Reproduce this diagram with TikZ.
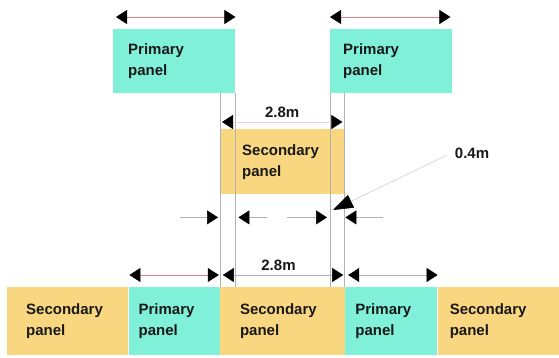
\documentclass[tikz,border=0pt]{standalone}
\usepackage{fontspec}
\setmainfont{Liberation Sans}
\usetikzlibrary{positioning, arrows.meta}
\definecolor{aqua}{RGB}{128,240,216}
\definecolor{sand}{RGB}{249,214,128}
\definecolor{dimred}{RGB}{222,130,140}

\begin{document}
\begin{tikzpicture}[x=1pt, y=-1pt,
    >={Triangle[length=11pt,width=14pt,black]},
    panel/.style={anchor=north west, align=left, inner ysep=0pt,
      font=\fontsize{15}{21}\selectfont\bfseries, text=black!90},
    prim/.style={panel, fill=aqua},
    sec/.style={panel, fill=sand},
    lbl/.style={font=\fontsize{15}{18}\selectfont\bfseries, text=black!90},
    guide/.style={draw=gray!60, line width=0.5pt},
    dimarrow/.style={draw=#1, line width=0.5pt, <->},
    tail/.style={draw=gray!60, line width=0.5pt},
    leader/.style={draw=gray!45, line width=0.5pt, -{Triangle[length=20pt,width=14pt,black]}}]
  \useasboundingbox (0,0) rectangle (559,358);
  % upper panels
  \node [prim, text width=92pt, inner xsep=15pt, minimum height=64pt] (pl) at (113,29) {Primary\\panel};
  \node [prim, text width=96pt, inner xsep=13pt, minimum height=64pt] (pr) at (330,29) {Primary\\panel};
  \node [sec, text width=80pt, inner xsep=22pt, minimum height=65pt] (sm) at (220,129) {Secondary\\panel};
  % lower row
  \node [sec, text width=83pt, inner xsep=19pt, minimum height=68pt] (b1) at (7,287) {Secondary\\panel};
  \node [prim, text width=71pt, inner xsep=10pt, minimum height=68pt, right=0pt of b1] (b2) {Primary\\panel};
  \node [sec, text width=85pt, inner xsep=20pt, minimum height=68pt, right=0pt of b2] (b3) {Secondary\\panel};
  \node [prim, text width=72pt, inner xsep=10pt, minimum height=68pt, right=0pt of b3] (b4) {Primary\\panel};
  \node [sec, text width=99pt, inner xsep=12pt, minimum height=68pt, right=0pt of b4] (b5) {Secondary\\panel};
  % guide lines
  \draw [guide] (sm.north west |- pl.south) -- (sm.north west |- b3.north);
  \draw [guide] (pl.south east) -- (pl.south east |- b3.north);
  \draw [guide] (pr.south west) -- (pr.south west |- b3.north);
  \draw [guide] (sm.north east |- pr.south) -- (sm.north east |- b3.north);
  % widths
  \draw [dimarrow=dimred, shorten <=3pt] ([yshift=12pt]pl.north west) -- ([yshift=12pt]pl.north east);
  \draw [dimarrow=dimred, shorten >=2pt] ([yshift=12pt]pr.north west) -- ([yshift=12pt]pr.north east);
  \draw [dimarrow=dimred!40, shorten <=2pt, shorten >=2pt] ([yshift=7pt]sm.north west) -- ([yshift=7pt]sm.north east)
    node [lbl, midway, above=1pt] (wmid) {2.8m};
  \draw [dimarrow=dimred, shorten <=1pt, shorten >=1pt] ([yshift=12pt]b2.north west) -- ([yshift=12pt]b2.north east);
  \draw [dimarrow=gray!60, shorten <=3pt, shorten >=2pt] ([yshift=12pt]b3.north west) -- ([yshift=12pt]b3.north east)
    node [lbl, midway, above=1pt, xshift=-4pt] (wlow) {2.8m};
  \draw [dimarrow=gray!60, shorten <=3pt] ([yshift=12pt]b4.north west) -- ([yshift=12pt]b4.north east);
  % overlap
  \coordinate [below=23pt of sm.south west] (ovl);
  \coordinate [left=40pt of ovl] (ovla);
  \coordinate (ovlb) at (pl.south east |- ovl);
  \coordinate [right=32pt of ovlb] (ovlc);
  \coordinate (ovrb) at (pr.south west |- ovl);
  \coordinate [left=43pt of ovrb] (ovrc);
  \coordinate [below=23pt of sm.south east] (ovr);
  \coordinate [right=39pt of ovr] (ovra);
  \draw [tail, ->, shorten >=2pt] (ovla) -- (ovl);
  \draw [tail, <-, shorten <=3pt] (ovlb) -- (ovlc);
  \draw [tail, ->, shorten >=3pt] (ovrc) -- (ovrb);
  \draw [tail, <-, shorten <=1pt] (ovr) -- (ovra);
  \node [lbl] (ovtxt) at (472,153) {0.4m};
  \coordinate (ovtip) at (333,210);
  \draw [leader, shorten <=6pt] (ovtxt.west) -- (ovtip);
\end{tikzpicture}
\end{document}
